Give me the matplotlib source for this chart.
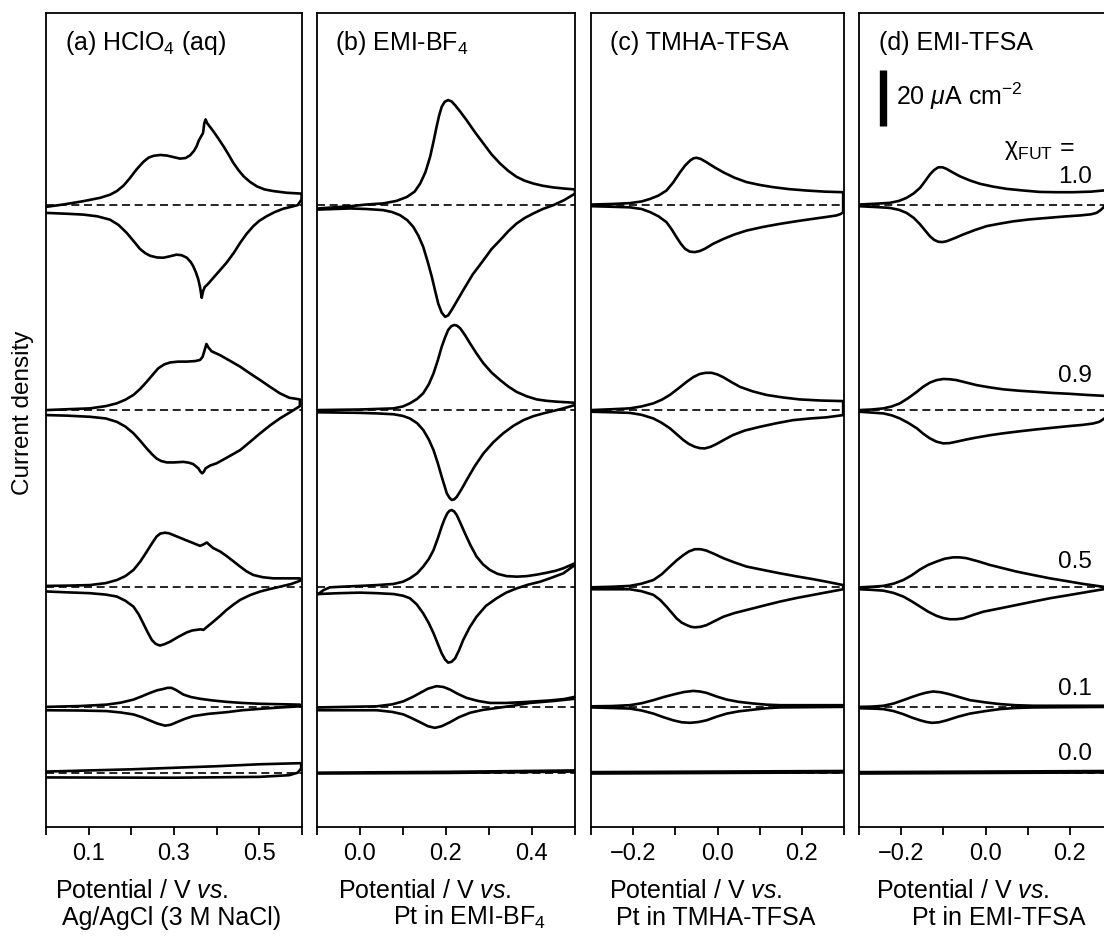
import matplotlib.pyplot as plt

plt.rcParams['font.family'] = ['Liberation Sans', 'DejaVu Sans']
plt.rcParams['mathtext.fontset'] = 'custom'
plt.rcParams['mathtext.rm'] = 'Liberation Sans'
plt.rcParams['mathtext.it'] = 'Liberation Sans:italic'
plt.rcParams['font.size'] = 18

# CV curves, (potential / V, current density / uA cm-2)
# each composition: anodic (upper) branch and cathodic (lower) branch
compositions = ['1.0', '0.9', '0.5', '0.1', '0.0']

# (a) HClO4 (aq)
a10_up = [(0.002, -0.8), (0.04, 0.0), (0.0875, 1.2), (0.127, 2.4), (0.15, 3.5), (0.166, 4.8), (0.182, 6.8),
          (0.197, 9.5), (0.212, 12.5), (0.228, 15.2), (0.24, 16.7), (0.252, 17.4), (0.268, 17.7), (0.283, 17.5),
          (0.3, 16.9), (0.314, 16.4), (0.327, 16.6), (0.338, 17.6), (0.347, 19.2), (0.353, 20.8), (0.358, 22.8),
          (0.363, 24.2), (0.368, 25.5), (0.371, 29.0), (0.374, 30.4), (0.378, 29.0), (0.384, 27.8), (0.392, 26.2),
          (0.403, 23.8), (0.416, 20.8), (0.428, 17.8), (0.439, 14.9), (0.451, 12.3), (0.463, 10.1), (0.478, 8.1),
          (0.494, 6.5), (0.512, 5.4), (0.533, 4.8), (0.564, 4.2), (0.599, 3.9)]
a10_dn = [(0.002, -3.0), (0.05, -3.3), (0.0875, -3.6), (0.12, -4.2), (0.15, -5.4), (0.17, -7.3), (0.189, -10.1),
          (0.205, -13.0), (0.22, -15.8), (0.232, -17.3), (0.244, -18.3), (0.26, -18.9), (0.275, -19.0),
          (0.29, -18.5), (0.306, -17.9), (0.318, -18.1), (0.33, -19.0), (0.339, -20.5), (0.345, -22.0),
          (0.352, -24.5), (0.357, -26.8), (0.361, -29.5), (0.365, -33.3), (0.368, -31.0), (0.372, -29.5),
          (0.38, -28.3), (0.392, -26.2), (0.407, -23.6), (0.423, -20.8), (0.44, -17.3), (0.455, -13.7),
          (0.47, -10.5), (0.486, -7.7), (0.5, -5.8), (0.517, -4.2), (0.536, -2.7), (0.556, -1.5), (0.575, -0.8),
          (0.59, -0.2), (0.599, 1.8)]
a09_up = [(0.002, 0.0), (0.05, 0.3), (0.103, 0.6), (0.14, 1.4), (0.166, 2.4), (0.186, 3.7), (0.205, 5.4),
          (0.221, 7.6), (0.236, 10.1), (0.25, 12.6), (0.263, 14.9), (0.277, 16.3), (0.291, 17.0), (0.31, 17.3),
          (0.33, 17.3), (0.35, 17.5), (0.361, 17.9), (0.367, 19.0), (0.372, 21.5), (0.376, 23.6), (0.381, 22.3),
          (0.388, 21.0), (0.398, 20.3), (0.408, 19.6), (0.43, 17.7), (0.455, 15.5), (0.478, 13.1), (0.502, 10.7),
          (0.525, 8.3), (0.548, 6.0), (0.57, 4.4), (0.595, 3.8)]
a09_dn = [(0.002, -1.8), (0.05, -2.0), (0.103, -2.4), (0.14, -3.0), (0.166, -4.2), (0.186, -5.9), (0.205, -8.3),
          (0.221, -11.0), (0.236, -13.7), (0.248, -15.7), (0.259, -17.3), (0.27, -18.2), (0.283, -18.7),
          (0.3, -18.7), (0.322, -18.5), (0.335, -18.8), (0.345, -19.3), (0.357, -20.8), (0.362, -22.0),
          (0.366, -22.6), (0.37, -22.0), (0.374, -20.8), (0.385, -19.8), (0.4, -19.0), (0.425, -16.9),
          (0.455, -14.3), (0.478, -11.4), (0.502, -8.3), (0.525, -5.5), (0.548, -3.0), (0.572, -0.8), (0.595, 1.4)]
a05_up = [(0.002, 0.5), (0.05, 0.6), (0.103, 0.8), (0.14, 1.5), (0.166, 2.6), (0.186, 4.0), (0.205, 6.2),
          (0.221, 9.2), (0.236, 12.7), (0.248, 15.6), (0.259, 18.1), (0.268, 19.2), (0.279, 19.5), (0.288, 19.3),
          (0.298, 18.7), (0.314, 17.7), (0.33, 16.7), (0.345, 15.8), (0.361, 14.8), (0.369, 15.3), (0.377, 16.0),
          (0.384, 15.0), (0.392, 14.0), (0.408, 12.8), (0.423, 11.2), (0.44, 9.2), (0.455, 7.4), (0.47, 5.7),
          (0.486, 4.4), (0.508, 3.6), (0.533, 3.2), (0.595, 3.2)]
a05_dn = [(0.002, -1.5), (0.05, -1.8), (0.103, -2.1), (0.14, -2.6), (0.166, -3.3), (0.186, -4.8), (0.205, -6.9),
          (0.217, -9.6), (0.228, -12.9), (0.238, -16.0), (0.248, -18.8), (0.257, -20.2), (0.267, -20.8),
          (0.278, -20.3), (0.291, -19.4), (0.31, -17.7), (0.33, -16.1), (0.343, -15.4), (0.353, -15.2),
          (0.362, -15.0), (0.369, -15.2), (0.38, -13.8), (0.392, -12.3), (0.408, -10.2), (0.423, -8.1),
          (0.44, -6.1), (0.455, -4.5), (0.478, -2.8), (0.502, -1.5), (0.525, -0.6), (0.548, 0.2), (0.575, 1.2),
          (0.595, 2.3)]
a01_up = [(0.002, 0.0), (0.08, 0.3), (0.142, 0.8), (0.175, 1.5), (0.205, 2.6), (0.225, 3.8), (0.244, 5.0),
          (0.26, 5.9), (0.275, 6.4), (0.285, 6.8), (0.294, 6.8), (0.305, 6.0), (0.322, 4.4), (0.34, 3.5),
          (0.361, 2.9), (0.39, 2.3), (0.423, 1.8), (0.46, 1.4), (0.502, 1.1), (0.595, 0.8)]
a01_dn = [(0.002, -1.2), (0.08, -1.3), (0.142, -1.5), (0.175, -2.0), (0.205, -2.7), (0.225, -3.7), (0.244, -4.9),
          (0.262, -6.0), (0.279, -6.7), (0.292, -6.4), (0.306, -5.5), (0.325, -4.3), (0.345, -3.3), (0.38, -2.5),
          (0.423, -1.9), (0.46, -1.2), (0.502, -0.7), (0.55, -0.2), (0.595, 0.2)]
a00_up = [(0.002, 0.4), (0.2, 1.2), (0.4, 2.3), (0.5, 3.0), (0.598, 3.4)]
a00_dn = [(0.002, -1.7), (0.3, -1.8), (0.5, -1.5), (0.57, -0.9), (0.59, 0.0), (0.598, 1.5)]

# (b) EMI-BF4
b10_up = [(-0.097, -1.4), (-0.06, -1.0), (-0.023, -0.6), (0.015, 0.0), (0.054, 0.4), (0.085, 1.3), (0.109, 2.7),
          (0.127, 4.6), (0.14, 7.5), (0.152, 11.5), (0.163, 17.0), (0.171, 22.5), (0.178, 27.7), (0.184, 31.8),
          (0.19, 34.9), (0.197, 36.7), (0.205, 37.3), (0.213, 36.8), (0.221, 35.5), (0.234, 33.0), (0.248, 30.1),
          (0.267, 25.9), (0.287, 21.8), (0.306, 17.9), (0.326, 14.6), (0.345, 12.0), (0.364, 9.9), (0.383, 8.5),
          (0.403, 7.5), (0.425, 6.7), (0.45, 6.1), (0.475, 5.7), (0.5, 5.4)]
b10_dn = [(-0.097, -1.8), (-0.06, -1.6), (-0.023, -1.4), (0.015, -1.6), (0.054, -2.0), (0.075, -2.7),
          (0.093, -3.8), (0.11, -5.6), (0.124, -8.0), (0.136, -11.2), (0.147, -15.1), (0.157, -20.2),
          (0.167, -25.8), (0.175, -31.0), (0.182, -35.4), (0.19, -38.6), (0.198, -40.1), (0.205, -39.6),
          (0.213, -37.7), (0.226, -34.3), (0.24, -30.6), (0.262, -25.0), (0.287, -19.9), (0.306, -15.9),
          (0.326, -12.7), (0.345, -9.5), (0.364, -6.8), (0.383, -4.8), (0.403, -3.2), (0.425, -1.6), (0.45, -0.2),
          (0.475, 1.6), (0.5, 3.9)]
b09_up = [(-0.097, 0.0), (-0.05, 0.1), (0.0, 0.2), (0.04, 0.4), (0.078, 0.6), (0.1, 1.3), (0.116, 2.4),
          (0.133, 4.0), (0.147, 6.0), (0.16, 9.2), (0.171, 13.1), (0.181, 17.8), (0.19, 22.6), (0.198, 26.0),
          (0.205, 28.6), (0.212, 29.9), (0.219, 30.4), (0.226, 30.1), (0.233, 29.2), (0.244, 26.8), (0.256, 23.8),
          (0.271, 20.2), (0.287, 16.7), (0.306, 13.4), (0.326, 10.7), (0.345, 8.4), (0.364, 6.5), (0.388, 4.9),
          (0.411, 3.8), (0.434, 3.3), (0.457, 3.0), (0.5, 2.6)]
b09_dn = [(-0.097, -0.8), (0.0, -1.0), (0.04, -1.2), (0.078, -1.5), (0.1, -2.1), (0.116, -3.0), (0.133, -4.7),
          (0.147, -7.1), (0.16, -10.5), (0.171, -14.3), (0.181, -19.0), (0.19, -23.8), (0.197, -27.3),
          (0.202, -29.8), (0.208, -31.3), (0.213, -32.1), (0.219, -31.9), (0.225, -31.0), (0.236, -28.3),
          (0.248, -25.0), (0.267, -20.0), (0.287, -15.5), (0.31, -11.5), (0.333, -8.3), (0.357, -5.6),
          (0.38, -3.6), (0.403, -2.2), (0.426, -1.2), (0.45, -0.3), (0.473, 0.6), (0.5, 1.8)]
b05_up = [(-0.097, -2.4), (-0.085, -1.0), (-0.07, 0.0), (-0.03, 0.3), (0.0, 0.5), (0.04, 0.8), (0.078, 1.2),
          (0.1, 2.0), (0.116, 3.2), (0.133, 5.0), (0.147, 7.4), (0.16, 10.1), (0.171, 13.3), (0.181, 17.5),
          (0.19, 21.7), (0.197, 24.5), (0.203, 26.4), (0.208, 27.3), (0.213, 27.6), (0.219, 27.1), (0.225, 25.8),
          (0.234, 22.8), (0.244, 19.3), (0.257, 15.0), (0.271, 11.0), (0.286, 8.2), (0.302, 6.2), (0.32, 4.8),
          (0.341, 4.0), (0.365, 3.8), (0.388, 4.0), (0.41, 4.5), (0.434, 5.2), (0.455, 5.9), (0.473, 6.8),
          (0.5, 8.6)]
b05_dn = [(-0.097, -2.4), (-0.05, -2.1), (0.0, -1.9), (0.04, -2.1), (0.078, -2.4), (0.1, -3.0), (0.116, -3.9),
          (0.132, -6.1), (0.147, -9.3), (0.16, -12.8), (0.171, -16.4), (0.181, -20.2), (0.19, -23.6),
          (0.198, -25.8), (0.205, -26.9), (0.213, -26.6), (0.221, -25.4), (0.23, -22.6), (0.24, -18.8),
          (0.255, -14.3), (0.271, -10.5), (0.293, -6.6), (0.318, -3.9), (0.34, -1.9), (0.364, -0.4), (0.39, 0.9),
          (0.419, 2.0), (0.445, 3.4), (0.473, 5.0), (0.5, 8.0)]
b01_up = [(-0.097, -0.2), (-0.03, 0.0), (0.039, 0.2), (0.075, 0.9), (0.101, 2.0), (0.122, 3.5), (0.14, 5.0),
          (0.158, 6.5), (0.178, 7.4), (0.194, 7.1), (0.209, 6.2), (0.228, 4.6), (0.248, 3.2), (0.275, 2.1),
          (0.302, 1.4), (0.34, 1.4), (0.38, 1.7), (0.442, 2.3), (0.475, 2.8), (0.5, 3.6)]
b01_dn = [(-0.097, -1.2), (0.039, -1.2), (0.075, -1.8), (0.101, -2.7), (0.12, -4.0), (0.14, -5.5), (0.158, -6.9),
          (0.174, -7.5), (0.19, -6.9), (0.209, -5.5), (0.23, -3.7), (0.256, -2.1), (0.285, -1.1), (0.318, -0.4),
          (0.355, 0.4), (0.395, 1.4), (0.45, 2.1), (0.5, 2.9)]
b00_up = [(-0.097, 0.0), (0.2, 0.3), (0.5, 0.8)]
b00_dn = [(-0.097, -0.3), (0.2, -0.1), (0.5, 0.4)]

# (c) TMHA-TFSA
c10_up = [(-0.298, 0.0), (-0.25, 0.2), (-0.208, 0.5), (-0.18, 1.1), (-0.16, 2.0), (-0.14, 3.2), (-0.121, 5.0),
          (-0.105, 7.9), (-0.089, 11.5), (-0.077, 13.9), (-0.065, 15.7), (-0.057, 16.5), (-0.05, 16.7),
          (-0.04, 16.3), (-0.026, 15.1), (-0.006, 13.2), (0.014, 11.5), (0.04, 9.6), (0.069, 8.0), (0.1, 7.0),
          (0.132, 6.2), (0.17, 5.5), (0.211, 5.0), (0.255, 4.6), (0.298, 4.4)]
c10_dn = [(-0.298, -0.6), (-0.25, -0.8), (-0.208, -1.0), (-0.18, -1.6), (-0.16, -2.7), (-0.14, -4.2),
          (-0.121, -6.3), (-0.109, -8.8), (-0.097, -11.7), (-0.087, -14.0), (-0.077, -15.8), (-0.066, -16.8),
          (-0.054, -17.0), (-0.042, -16.6), (-0.03, -15.8), (-0.01, -14.0), (0.014, -12.3), (0.04, -10.7),
          (0.069, -9.3), (0.108, -8.0), (0.148, -6.9), (0.19, -5.9), (0.227, -5.1), (0.26, -4.4), (0.282, -3.9),
          (0.292, -3.4), (0.298, -2.7)]
c09_up = [(-0.298, 0.0), (-0.25, 0.3), (-0.208, 0.6), (-0.18, 1.3), (-0.152, 2.4), (-0.132, 3.7), (-0.113, 5.4),
          (-0.093, 7.7), (-0.073, 10.1), (-0.057, 11.8), (-0.042, 12.9), (-0.028, 13.3), (-0.014, 13.3),
          (0.0, 12.7), (0.014, 11.7), (0.033, 10.0), (0.053, 8.3), (0.083, 6.7), (0.116, 5.4), (0.155, 4.5),
          (0.195, 3.8), (0.245, 3.4), (0.298, 3.2)]
c09_dn = [(-0.298, -0.6), (-0.25, -0.8), (-0.208, -1.0), (-0.18, -1.7), (-0.152, -3.0), (-0.132, -4.6),
          (-0.113, -6.5), (-0.097, -8.6), (-0.081, -10.7), (-0.068, -12.1), (-0.054, -13.1), (-0.042, -13.6),
          (-0.03, -13.7), (-0.016, -13.1), (-0.002, -12.1), (0.017, -10.5), (0.037, -8.9), (0.065, -7.3),
          (0.1, -6.0), (0.14, -4.7), (0.179, -3.6), (0.22, -3.0), (0.258, -2.6), (0.298, -1.8)]
c05_up = [(-0.298, 0.0), (-0.25, 0.2), (-0.208, 0.5), (-0.18, 1.3), (-0.152, 2.6), (-0.132, 4.7), (-0.113, 7.4),
          (-0.097, 9.6), (-0.081, 11.5), (-0.068, 12.8), (-0.054, 13.6), (-0.04, 13.6), (-0.026, 13.1),
          (-0.006, 11.8), (0.014, 10.4), (0.04, 8.9), (0.069, 7.4), (0.108, 6.2), (0.148, 5.0), (0.188, 3.9),
          (0.227, 2.9), (0.262, 1.9), (0.298, 0.8)]
c05_dn = [(-0.298, -0.7), (-0.25, -0.7), (-0.208, -0.7), (-0.18, -1.4), (-0.152, -2.7), (-0.136, -4.5),
          (-0.121, -6.9), (-0.109, -9.0), (-0.097, -11.1), (-0.085, -12.6), (-0.073, -13.5), (-0.063, -14.1),
          (-0.054, -14.3), (-0.04, -14.1), (-0.026, -13.5), (-0.006, -12.0), (0.014, -10.5), (0.04, -9.2),
          (0.069, -8.1), (0.108, -6.6), (0.148, -5.1), (0.188, -3.8), (0.227, -2.7), (0.262, -1.7), (0.298, -0.7)]
c01_up = [(-0.298, 0.2), (-0.25, 0.3), (-0.208, 0.6), (-0.18, 1.3), (-0.152, 2.4), (-0.128, 3.5), (-0.105, 4.4),
          (-0.08, 5.3), (-0.058, 5.7), (-0.042, 5.5), (-0.026, 5.0), (-0.002, 3.7), (0.022, 2.6), (0.05, 1.8),
          (0.085, 1.2), (0.115, 0.8), (0.148, 0.6), (0.298, 0.6)]
c01_dn = [(-0.298, -0.2), (-0.25, -0.4), (-0.208, -0.6), (-0.18, -1.3), (-0.152, -2.4), (-0.128, -3.7),
          (-0.105, -4.8), (-0.085, -5.5), (-0.065, -5.7), (-0.045, -5.4), (-0.026, -4.8), (-0.002, -3.5),
          (0.022, -2.4), (0.05, -1.6), (0.085, -1.0), (0.115, -0.5), (0.148, -0.2), (0.298, 0.0)]
c00_up = [(-0.298, 0.2), (0.298, 0.6)]
c00_dn = [(-0.298, -0.3), (0.298, 0.1)]

# (d) EMI-TFSA
d10_up = [(-0.3, 0.0), (-0.26, 0.3), (-0.227, 0.6), (-0.205, 1.3), (-0.187, 2.4), (-0.17, 4.0), (-0.155, 6.0),
          (-0.143, 8.4), (-0.132, 10.7), (-0.122, 12.3), (-0.112, 13.3), (-0.102, 13.3), (-0.092, 12.7),
          (-0.077, 11.4), (-0.061, 10.1), (-0.037, 8.6), (-0.013, 7.4), (0.018, 6.4), (0.05, 5.6), (0.09, 5.0),
          (0.129, 4.5), (0.17, 4.4), (0.208, 4.4), (0.25, 4.6), (0.3, 5.3)]
d10_dn = [(-0.3, -0.6), (-0.26, -0.9), (-0.227, -1.2), (-0.205, -1.9), (-0.187, -3.0), (-0.17, -4.8),
          (-0.155, -7.1), (-0.143, -9.3), (-0.132, -11.3), (-0.122, -12.6), (-0.112, -13.3), (-0.102, -13.4),
          (-0.092, -13.1), (-0.073, -12.0), (-0.053, -10.7), (-0.025, -9.1), (0.003, -7.7), (0.035, -6.8),
          (0.066, -6.0), (0.105, -5.3), (0.145, -4.8), (0.185, -4.3), (0.224, -3.9), (0.25, -3.5), (0.263, -3.0),
          (0.273, -2.0), (0.281, -0.8), (0.3, 4.0)]
d09_up = [(-0.298, 0.0), (-0.27, 0.2), (-0.242, 0.6), (-0.222, 1.3), (-0.203, 2.4), (-0.183, 4.3), (-0.163, 6.5),
          (-0.148, 8.3), (-0.132, 9.8), (-0.116, 10.7), (-0.1, 11.1), (-0.085, 11.0), (-0.069, 10.7),
          (-0.045, 9.8), (-0.021, 8.9), (0.01, 8.1), (0.042, 7.4), (0.08, 6.9), (0.121, 6.5), (0.16, 6.1),
          (0.2, 5.8), (0.24, 5.4), (0.279, 5.1), (0.3, 4.9)]
d09_dn = [(-0.298, -0.6), (-0.27, -0.9), (-0.242, -1.2), (-0.222, -1.9), (-0.203, -3.0), (-0.183, -4.6),
          (-0.163, -6.5), (-0.148, -8.4), (-0.132, -10.1), (-0.116, -11.3), (-0.1, -11.9), (-0.085, -11.8),
          (-0.069, -11.3), (-0.045, -10.5), (-0.021, -9.8), (0.01, -9.0), (0.042, -8.3), (0.08, -7.6),
          (0.121, -6.9), (0.16, -6.3), (0.2, -5.7), (0.23, -5.3), (0.255, -4.8), (0.27, -4.2), (0.279, -3.3),
          (0.3, -1.0)]
d05_up = [(-0.298, 0.0), (-0.27, 0.2), (-0.242, 0.5), (-0.218, 1.3), (-0.195, 2.6), (-0.175, 4.3), (-0.155, 6.4),
          (-0.136, 8.0), (-0.116, 9.2), (-0.097, 10.2), (-0.077, 10.7), (-0.061, 10.7), (-0.045, 10.4),
          (-0.018, 9.3), (0.01, 8.0), (0.042, 6.8), (0.074, 5.6), (0.113, 4.4), (0.153, 3.2), (0.193, 2.2),
          (0.232, 1.2), (0.279, 0.2), (0.3, 0.0)]
d05_dn = [(-0.298, -0.7), (-0.27, -0.9), (-0.242, -1.2), (-0.218, -2.0), (-0.195, -3.3), (-0.175, -5.0),
          (-0.155, -6.9), (-0.136, -8.7), (-0.116, -10.2), (-0.1, -11.0), (-0.085, -11.4), (-0.069, -11.4),
          (-0.053, -11.1), (-0.03, -9.9), (-0.005, -8.7), (0.035, -7.5), (0.074, -6.3), (0.113, -5.1),
          (0.153, -3.9), (0.193, -2.9), (0.232, -1.9), (0.279, -0.7), (0.3, -0.3)]
d01_up = [(-0.298, 0.0), (-0.27, 0.1), (-0.242, 0.4), (-0.218, 1.2), (-0.195, 2.4), (-0.175, 3.5), (-0.155, 4.5),
          (-0.14, 5.1), (-0.124, 5.5), (-0.105, 5.2), (-0.085, 4.5), (-0.06, 3.4), (-0.037, 2.4), (0.0, 1.6),
          (0.034, 1.0), (0.07, 0.6), (0.113, 0.4), (0.3, 0.4)]
d01_dn = [(-0.298, -0.5), (-0.27, -0.6), (-0.242, -0.8), (-0.218, -1.5), (-0.195, -2.6), (-0.175, -3.8),
          (-0.155, -4.8), (-0.14, -5.4), (-0.127, -5.7), (-0.11, -5.5), (-0.092, -4.8), (-0.065, -3.5),
          (-0.037, -2.4), (0.0, -1.5), (0.034, -0.8), (0.07, -0.4), (0.113, -0.2), (0.3, 0.0)]
d00_up = [(-0.298, 0.2), (0.3, 0.6)]
d00_dn = [(-0.298, -0.3), (0.3, 0.1)]

titles = ['(a) HClO$_4$ (aq)', '(b) EMI-BF$_4$', '(c) TMHA-TFSA', '(d) EMI-TFSA']
xlims = [(0.0, 0.6), (-0.1, 0.5), (-0.3, 0.3), (-0.3, 0.3)]
xticks = [[0.0, 0.1, 0.2, 0.3, 0.4, 0.5, 0.6],
          [-0.1, 0.0, 0.1, 0.2, 0.3, 0.4, 0.5],
          [-0.3, -0.2, -0.1, 0.0, 0.1, 0.2, 0.3],
          [-0.3, -0.2, -0.1, 0.0, 0.1, 0.2, 0.3]]
xticklabels = [['', '0.1', '', '0.3', '', '0.5', ''],
               ['', '0.0', '', '0.2', '', '0.4', ''],
               ['', '\u22120.2', '', '0.0', '', '0.2', ''],
               ['', '\u22120.2', '', '0.0', '', '0.2', '']]
ref_electrodes = ['Ag/AgCl (3 M NaCl)', 'Pt in EMI-BF$_4$', 'Pt in TMHA-TFSA', 'Pt in EMI-TFSA']

curves = [
    [(a10_up, a10_dn), (a09_up, a09_dn), (a05_up, a05_dn), (a01_up, a01_dn), (a00_up, a00_dn)],
    [(b10_up, b10_dn), (b09_up, b09_dn), (b05_up, b05_dn), (b01_up, b01_dn), (b00_up, b00_dn)],
    [(c10_up, c10_dn), (c09_up, c09_dn), (c05_up, c05_dn), (c01_up, c01_dn), (c00_up, c00_dn)],
    [(d10_up, d10_dn), (d09_up, d09_dn), (d05_up, d05_dn), (d01_up, d01_dn), (d00_up, d00_dn)],
]

# vertical stacking (uA cm-2 above the bottom of the axes)
offsets = [222.3, 148.9, 85.6, 42.9, 19.4]
ytop = 290.7

W, H = 1104, 938
fig = plt.figure(figsize=(W / 100, H / 100), dpi=100)

# axes placement in pixels: left, width
ax_px = [(46, 256), (317, 258), (591, 253), (859, 253)]
ax_bottom, ax_top = 827, 13

for k in range(4):
    left, width = ax_px[k]
    ax = fig.add_axes([left / W, (H - ax_bottom) / H, width / W, (ax_bottom - ax_top) / H])
    for (up, dn), off in zip(curves[k], offsets):
        ax.axhline(off, color='black', lw=1.2, ls=(0, (4.8, 2.8)), zorder=1)
        loop = up + dn[::-1]
        ax.plot([p[0] for p in loop], [p[1] + off for p in loop], color='black', lw=1.9,
                solid_joinstyle='round', solid_capstyle='round', zorder=2)
    ax.set_xlim(xlims[k])
    ax.set_ylim(0, ytop)
    ax.set_yticks([])
    ax.set_xticks(xticks[k])
    ax.set_xticklabels(xticklabels[k])
    ax.tick_params(axis='x', direction='out', length=6, width=1.3, pad=5.5, labelsize=17)
    for s in ax.spines.values():
        s.set_linewidth(1.3)
    tx = [0.074, 0.07, 0.075, 0.08][k]
    ax.text(tx, 0.9545, titles[k], transform=ax.transAxes, va='baseline', ha='left', fontsize=18)

    if k == 3:
        # scale bar
        ax.plot([-0.243, -0.243], [250.4, 270.4], color='black', lw=5.3, solid_capstyle='butt')
        ax.text(-0.212, 257.9, '20 $\\mu$A cm$^{\u22122}$', va='baseline', ha='left', fontsize=18)
        ax.text(0.212, 240.0, '\u03c7$_{\\mathrm{FUT}}$ =', va='baseline', ha='right', fontsize=18)
        for lab, yy in zip(compositions, [230.1, 159.0, 92.4, 47.1, 23.9]):
            ax.text(0.2514, yy, lab, va='baseline', ha='right', fontsize=17.5)

# x labels (two lines each)
line1_x = [55, 337.5, 608.6, 876]
line2_x = [61.7, 393, 615.6, 912.4]
for k in range(4):
    fig.text(line1_x[k] / W, 1 - 898.3 / H, 'Potential / V $\\mathit{vs.}$', va='baseline', ha='left',
             fontsize=18)
    fig.text(line2_x[k] / W, 1 - 925 / H, ref_electrodes[k], va='baseline', ha='left', fontsize=18)

fig.text(23 / W, 1 - 413 / H, 'Current density', rotation=90, va='center', ha='center', fontsize=17.5)

fig.savefig('out.png', dpi=100)
